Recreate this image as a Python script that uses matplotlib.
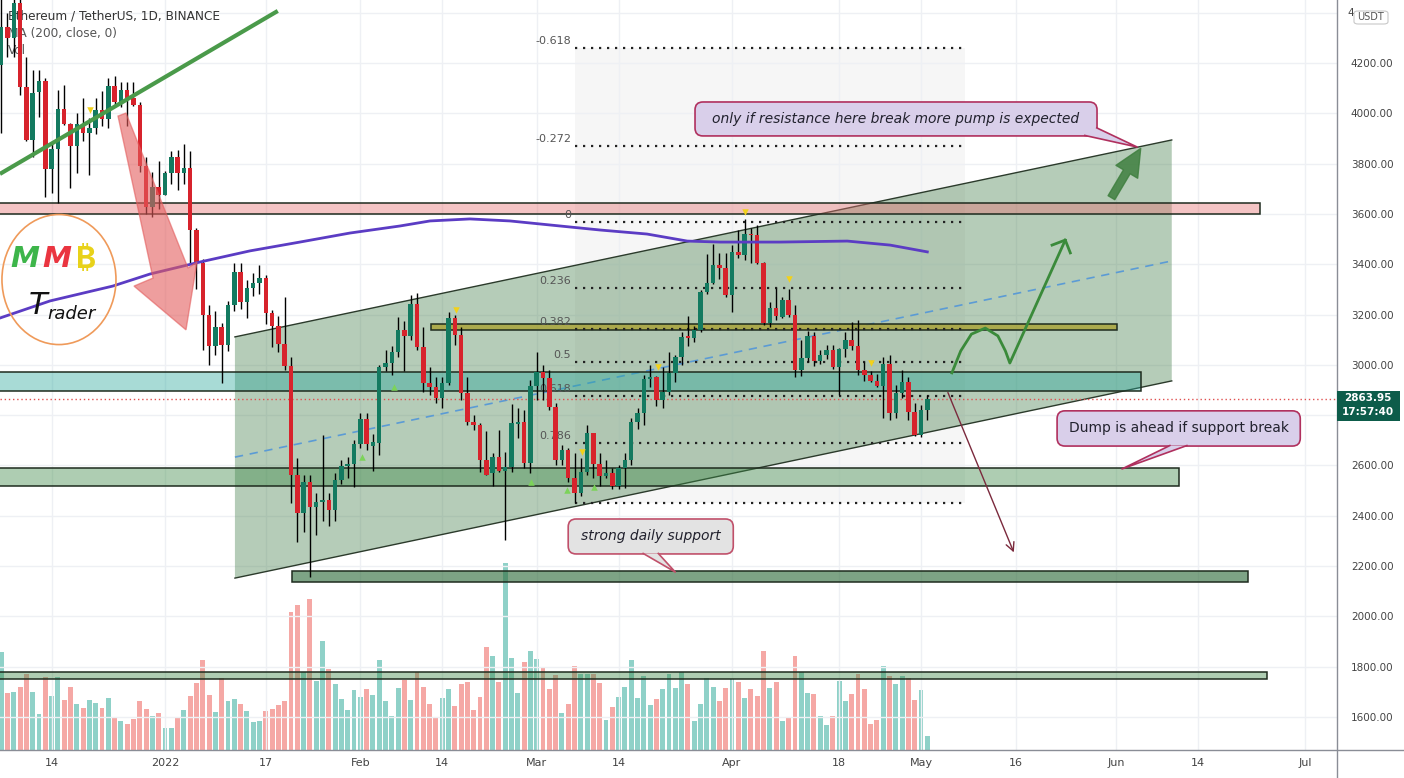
import numpy as np
import matplotlib
matplotlib.use("Agg")
import matplotlib.pyplot as plt
from matplotlib.patches import Polygon, Rectangle, Ellipse, FancyBboxPatch, FancyArrowPatch

# ---------------- data (x = days from 2022-01-01, first candle 2021-12-06) ----------------
first_day = -26

opens = [4192, 4343, 4300, 4440, 4105, 3894, 4085, 4128, 3778, 3858, 4017, 3957, 3870, 3957, 3920, 3941,
         4013, 3977, 4108, 4045, 4093, 4060, 4033, 3790, 3627, 3707,
         3676, 3763, 3826, 3763, 3781, 3537, 3404, 3198, 3075, 3150, 3080, 3238, 3369, 3248, 3305, 3325,
         3345, 3205, 3154, 3083, 2995, 2562, 2410, 2534, 2436, 2454, 2462, 2422, 2542, 2598, 2605,
         2685, 2785, 2677, 2689, 2991, 3007, 3051, 3139, 3115, 3242, 3071, 2928, 2912, 2868, 2928, 3186,
         3118, 2888, 2773, 2761, 2621, 2570, 2633, 2577, 2593, 2765, 2773, 2610,
         2916, 2971, 2947, 2832, 2621, 2661, 2550, 2490, 2574, 2729, 2607, 2557, 2568, 2518, 2590, 2620,
         2772, 2810, 2945, 2950, 2860, 2890, 2967, 3031, 3110, 3106, 3139, 3290, 3325, 3397, 3385,
         3278, 3450, 3438, 3520, 3515, 3405, 3166, 3226, 3190, 3258, 3198, 2980, 3027, 3115, 3015, 3038,
         3058, 2990, 3062, 3100, 3075, 2980, 2960, 2935, 2915, 3003, 2808, 2888, 2932, 2812,
         2721, 2820]
highs = [4460, 4400, 4460, 4490, 4224, 4172, 4172, 4140, 3884, 4093, 4112, 3962, 4000, 4060, 3980, 4060,
         4090, 4140, 4150, 4125, 4125, 4125, 4045, 3825, 3768, 3810,
         3770, 3850, 3855, 3876, 3850, 3544, 3420, 3238, 3212, 3166, 3255, 3405, 3405, 3337, 3366, 3396,
         3357, 3216, 3195, 3270, 3031, 2630, 2560, 2560, 2490, 2720, 2490, 2570, 2620, 2634, 2700,
         2810, 2810, 2723, 3000, 3060, 3075, 3190, 3175, 3278, 3285, 3150, 2990, 2950, 2950, 3210, 3200,
         3150, 2950, 2800, 2770, 2735, 2650, 2742, 2655, 2845, 2830, 2820, 2940,
         3050, 3000, 2980, 2850, 2680, 2670, 2650, 2630, 2760, 2730, 2650, 2620, 2590, 2600, 2650, 2790,
         2830, 2960, 3000, 2955, 2990, 3050, 3040, 3130, 3195, 3156, 3298, 3440, 3481, 3445, 3446,
         3475, 3535, 3580, 3545, 3555, 3410, 3250, 3306, 3270, 3300, 3236, 3100, 3135, 3130, 3060, 3080,
         3080, 3065, 3130, 3170, 3180, 3010, 2975, 2965, 3030, 3040, 2920, 2980, 2950, 2850,
         2840, 2880]
lows = [3920, 4224, 4224, 4073, 3890, 3826, 3985, 3667, 3683, 3643, 3955, 3702, 3763, 3890, 3755, 3918,
        3948, 3940, 4030, 4025, 3950, 4030, 3765, 3600, 3588, 3620,
        3675, 3718, 3695, 3720, 3400, 3300, 3059, 2999, 3040, 2928, 3055, 3213, 3220, 3186, 3275, 3280,
        3164, 3070, 3050, 2980, 2450, 2295, 2335, 2156, 2325, 2380, 2360, 2380, 2525, 2550, 2515,
        2670, 2660, 2577, 2640, 2975, 2960, 3032, 2975, 3100, 3060, 2890, 2880, 2850, 2830, 2920, 3077,
        2860, 2760, 2740, 2575, 2560, 2520, 2575, 2303, 2575, 2710, 2590, 2570,
        2860, 2860, 2820, 2600, 2600, 2535, 2450, 2480, 2560, 2550, 2520, 2550, 2505, 2505, 2510, 2600,
        2745, 2760, 2910, 2835, 2830, 2880, 2930, 3000, 3075, 3092, 3130, 3280, 3320, 3340, 3270,
        3210, 3425, 3418, 3405, 3400, 3160, 3150, 3180, 3188, 3190, 2950, 2955, 3010, 2995, 3005, 3025,
        2985, 2880, 3030, 3060, 2960, 2935, 2930, 2910, 2790, 2780, 2790, 2870, 2780, 2715,
        2712, 2780]
closes = [4343, 4300, 4440, 4105, 3894, 4080, 4128, 3778, 3858, 4017, 3957, 3870, 3957, 3922, 3940, 4013,
          3977, 4108, 4045, 4093, 4060, 4033, 3790, 3627, 3707, 3676,
          3763, 3826, 3763, 3781, 3537, 3404, 3198, 3075, 3150, 3080, 3238, 3369, 3248, 3305, 3325, 3345,
          3205, 3154, 3083, 2995, 2562, 2410, 2534, 2436, 2454, 2462, 2422, 2542, 2598, 2605, 2685,
          2785, 2685, 2693, 2991, 3007, 3051, 3139, 3115, 3242, 3071, 2928, 2912, 2868, 2928, 3186, 3118,
          2888, 2773, 2761, 2621, 2562, 2633, 2577, 2593, 2769, 2773, 2610, 2916,
          2971, 2947, 2832, 2621, 2661, 2550, 2490, 2574, 2729, 2607, 2557, 2568, 2518, 2590, 2620, 2772,
          2810, 2945, 2950, 2860, 2890, 2967, 3031, 3110, 3106, 3139, 3290, 3325, 3397, 3385, 3278,
          3450, 3438, 3520, 3515, 3405, 3166, 3226, 3196, 3258, 3198, 2980, 3027, 3115, 3015, 3038, 3058,
          2990, 3062, 3100, 3075, 2980, 2960, 2935, 2915, 3003, 2808, 2888, 2932, 2812, 2721,
          2820, 2864]
volumes = [98, 57, 58, 63, 76, 58, 36, 73, 54, 73, 50, 63, 46, 42, 50, 47, 42, 52, 32, 29, 26, 31, 49, 41, 34, 37,
           22, 22, 33, 40, 54, 67, 90, 55, 38, 72, 49, 51, 46, 39, 28, 29, 39, 41, 45, 49, 138, 145, 78, 151,
           69, 109, 81, 66, 51, 40, 60,
           53, 61, 55, 90, 49, 34, 62, 70, 50, 78, 63, 46, 33, 52, 61, 44, 66, 68, 40, 53, 103, 94, 68, 187,
           92, 57, 88, 99,
           91, 83, 61, 75, 37, 46, 84, 76, 76, 76, 67, 30, 43, 53, 63, 90, 52, 74, 45, 51, 61, 76, 62, 78,
           66, 29, 46, 72, 63, 49, 62,
           71, 68, 52, 61, 54, 99, 62, 68, 29, 32, 94, 78, 57, 56, 34, 25, 34, 69, 49, 56, 76, 61, 26, 30,
           84, 74, 66, 74, 72, 50,
           60, 14]

last_price = 2863.95

# MA(200) as drawn
ma_days = [-26.2, -18.25, -8.3, -2.38, 5.6, 13.49, 21.4, 29.37, 37.3, 42.06, 48.4, 54.76, 61.1, 69.05,
           76.5, 82.9, 88.1, 97.6, 108.3, 115.1, 121.0]
ma_vals = [3186, 3254, 3313, 3361, 3409, 3453, 3488, 3524, 3552, 3572, 3580, 3572, 3556, 3536,
           3520, 3492, 3488, 3488, 3492, 3476, 3449]

# fib retracement
fib_levels = [-0.618, -0.272, 0, 0.236, 0.382, 0.5, 0.618, 0.786, 1]
fib_labels = ["-0.618", "-0.272", "0", "0.236", "0.382", "0.5", "0.618", "0.786", ""]
fib_zero, fib_one = 3568, 2451
fib_start, fib_end = 65.1, 127.0

# channel (lower line, upper line)
chan_days = [11.1, 159.8]
chan_low = [2152, 2936]
chan_high = [3111, 3894]
chan_mid = [2633, 3413]

# horizontal zones: (start day, end day, low, high, colour, alpha)
zones = [
    (-40, 173.8, 3598, 3642, '#e57373', 0.42),
    (-40, 154.9, 2896, 2970, '#26a69a', 0.40),
    (-40, 161.0, 2518, 2589, '#3e8a48', 0.42),
    (42.2, 151.1, 3139, 3162, '#a89f2a', 0.75),
    (20.2, 171.9, 2137, 2180, '#2e6b3a', 0.62),
    (-40, 174.9, 1751, 1779, '#3e8a48', 0.42),
]

# trend line top-left
trend_days = [-26.2, 17.9]
trend_vals = [3759, 4407]

# markers
yellow_days = [-11.9, 46.2, 78.3, 92.1, 99.0, 112.1, 66.2]
yellow_vals = [4013, 3218, 2991, 3608, 3341, 3007, 2653]
green_days = [36.3, 58.1, 63.8, 68.1, 31.3]
green_vals = [2912, 2534, 2502, 2514, 2634]

tick_days = [-18, 0, 16, 31, 44, 59, 72, 90, 107, 120, 135, 151, 164, 181]
tick_labels = ["14", "2022", "17", "Feb", "14", "Mar", "14", "Apr", "18", "May", "16", "Jun", "14", "Jul"]
grid_prices = list(range(1600, 4401, 200))
# 2800 sits under the last-price tag, 4400 under the currency badge
label_prices = [p for p in grid_prices if p not in (2800, 4400)]

# ---------------- figure ----------------
W, H = 1404, 778
fig = plt.figure(figsize=(W / 100, H / 100), dpi=100)
fig.patch.set_facecolor('white')
rect = [0, 28 / H, 1337 / W, 750 / H]
axv = fig.add_axes(rect)
ax = fig.add_axes(rect, sharex=axv)
axv.set_zorder(0)
ax.set_zorder(1)
ax.patch.set_visible(False)

xmin, xmax = -26.19, 186.03
ymin, ymax = 1468.5, 4450.5
ax.set_xlim(xmin, xmax)
ax.set_ylim(ymin, ymax)
aspect = ((ymax - ymin) / 750) / ((xmax - xmin) / 1337)

days = np.arange(len(closes)) + first_day
o = np.array(opens, float)
c = np.array(closes, float)
up = c >= o

# volume
vol_colors = np.where(up, '#8fd1c8', '#f5a8a5')
axv.bar(days, volumes, width=0.78, color=vol_colors, linewidth=0)
axv.set_ylim(0, 750)
axv.axis('off')

# grid
for d in tick_days:
    ax.axvline(d, color='#eef0f4', lw=1, zorder=0.4)
for p in grid_prices:
    ax.axhline(p, color='#eef0f4', lw=1, zorder=0.4)

# fib background + levels
fib_prices = [fib_zero - lv * (fib_zero - fib_one) for lv in fib_levels]
ax.fill_between([fib_start, fib_end], min(fib_prices), max(fib_prices), color='#f6f6f6', zorder=0.2, lw=0)

# channel
ax.add_patch(Polygon([(chan_days[0], chan_low[0]), (chan_days[0], chan_high[0]),
                      (chan_days[1], chan_high[1]), (chan_days[1], chan_low[1])],
                     closed=True, facecolor='#3e7a45', alpha=0.38, lw=0, zorder=2))
ax.plot(chan_days, chan_low, color='#2b3a2b', lw=1, zorder=2.5)
ax.plot(chan_days, chan_high, color='#2b3a2b', lw=1, zorder=2.5)
ax.plot(chan_days, chan_mid, color='#5b9bd5', lw=1.2, ls=(0, (5, 4)), zorder=2.5)

# zones
for d0, d1, lo, hi, col, al in zones:
    ax.add_patch(Rectangle((d0, lo), d1 - d0, hi - lo, facecolor=col, alpha=al, lw=0, zorder=3))
    ax.add_patch(Rectangle((d0, lo), d1 - d0, hi - lo, fill=False, edgecolor='#1e2b1e', lw=1.1, zorder=3.1))

for lv, lab, fp in zip(fib_levels, fib_labels, fib_prices):
    ax.plot([fib_start, fib_end], [fp, fp], color='#222222', lw=1.6, ls=(0, (1, 2.6)), zorder=3.5)
    if lab:
        ax.annotate(lab, (fib_start, fp), xytext=(-4, 7), textcoords='offset pixels',
                    ha='right', va='center', fontsize=8, color='#555555', zorder=3.5)

# last price line
ax.axhline(last_price, color='#e05050', lw=1, ls=(0, (1, 2)), zorder=3.6)

# candles
candle_colors = np.where(up, '#137a60', '#d7232c')
ax.vlines(days, lows, highs, color='black', lw=1, zorder=5)
body_h = np.maximum(np.abs(c - o), 7)
ax.bar(days, body_h, bottom=np.minimum(o, c), width=0.72, color=candle_colors, lw=0, zorder=6)

# MA
ax.plot(ma_days, ma_vals, color='#5b3cc4', lw=2, zorder=7)

# top-left trend line
ax.plot(trend_days, trend_vals, color='#4a9a4a', lw=3, zorder=7, solid_capstyle='butt')

# markers
ax.scatter(yellow_days, yellow_vals, marker='v', s=22, color='#f2d11b', zorder=7, lw=0)
ax.scatter(green_days, green_vals, marker='^', s=22, color='#7cd35a', zorder=7, lw=0)

# big red arrow
ax.add_patch(Polygon([(-7.46, 3989), (-6.19, 4001), (3.65, 3385), (5.08, 3409), (3.33, 3139),
                      (-4.92, 3313), (-1.90, 3345)], closed=True,
                     facecolor='#e35d5d', edgecolor='#e35d5d', alpha=0.6, lw=1, zorder=8))

# green pump path
pump_x = [124.9, 126.3, 128.0, 130.2, 132.2, 133.4, 134.1, 142.9]
pump_y = [2968, 3055, 3122, 3146, 3115, 3055, 3007, 3496]
ax.plot(pump_x, pump_y, color='#3a8a3a', lw=2, zorder=8, solid_joinstyle='round')
ax.plot([140.8, 142.9, 143.7], [3476, 3496, 3445], color='#3a8a3a', lw=2, zorder=8)

# bold green arrow
ax.add_patch(FancyArrowPatch((150.0, 3655), (155.1, 3870),
                             arrowstyle='simple,head_width=1.3,head_length=1.4,tail_width=0.4',
                             mutation_scale=14, color='#3f7f3f', alpha=0.85, zorder=8))
# thin dump arrow
ax.add_patch(FancyArrowPatch((124.1, 2900), (134.9, 2244),
                             arrowstyle='->,head_length=0.5,head_width=0.25',
                             mutation_scale=12, color='#7b2a3d', lw=1, zorder=8))


def callout(x0, x1, y0, y1, base, tip, text, fc, ec, italic):
    ax.add_patch(FancyBboxPatch((x0, y0), x1 - x0, y1 - y0,
                                boxstyle='round,pad=0,rounding_size=1.25', mutation_aspect=aspect,
                                facecolor=fc, edgecolor=ec, lw=1.2, zorder=20))
    ax.add_patch(Polygon([base[0], tip, base[1]], closed=True, facecolor=fc, edgecolor='none', zorder=21))
    ax.plot([base[0][0], tip[0], base[1][0]], [base[0][1], tip[1], base[1][1]], color=ec, lw=1.2, zorder=21)
    ax.text((x0 + x1) / 2, (y0 + y1) / 2, text, ha='center', va='center', fontsize=10,
            style='italic' if italic else 'normal', color='#22222e', zorder=22)


callout(84.13, 147.94, 3910, 4045, [(146.0, 3912), (147.9, 3942)], (154.3, 3866),
        "only if resistance here break more pump is expected", '#d9cfea', '#b0305e', True)
callout(141.6, 180.2, 2677, 2817, [(159.5, 2679), (162.2, 2679)], (151.9, 2586),
        "Dump is ahead if support break", '#d9cfea', '#b0305e', False)
callout(64.0, 90.2, 2248, 2387, [(75.9, 2250), (78.3, 2250)], (81.0, 2176),
        "strong daily support", '#e3e3e3', '#c0506a', True)

# logo
ax.add_patch(Ellipse((-16.83, 3339), 18.1, 517, fill=False, edgecolor='#ef9a5a', lw=1.2, zorder=8))
ax.text(-22.2, 3421, "M", ha='center', va='center', fontsize=21, fontweight='bold', style='italic',
        color='#3db54a', zorder=9)
ax.text(-17.1, 3421, "M", ha='center', va='center', fontsize=21, fontweight='bold', style='italic',
        color='#ea3540', zorder=9)
ax.text(-12.6, 3418, "\u20bf", ha='center', va='center', fontsize=22, fontweight='bold',
        family=['Inter', 'Noto Sans', 'Roboto', 'Open Sans', 'Lato', 'Liberation Sans', 'DejaVu Sans'],
        color='#e8d21a', zorder=9)
ax.text(-20.2, 3234, "T", ha='center', va='center', fontsize=22, style='italic', color='#111111', zorder=9)
ax.text(-18.7, 3182, "rader", ha='left', va='baseline', fontsize=13, style='italic', color='#111111', zorder=9)

# header texts
ax.text(8 / 1337, 1 - 16 / 750, "Ethereum / TetherUS, 1D, BINANCE", transform=ax.transAxes,
        fontsize=8.7, color='#333333', va='center', ha='left', zorder=3)
ax.text(8 / 1337, 1 - 33 / 750, "MA (200, close, 0)", transform=ax.transAxes,
        fontsize=8.7, color='#555555', va='center', ha='left', zorder=3)
ax.text(8 / 1337, 1 - 50 / 750, "Vol", transform=ax.transAxes,
        fontsize=8.7, color='#555555', va='center', ha='left', zorder=3)

# axes formatting
for s in ax.spines.values():
    s.set_visible(False)
ax.yaxis.tick_right()
ax.set_yticks(label_prices)
ax.set_yticklabels([f"{p:.2f}" for p in label_prices])
ax.tick_params(axis='y', length=0, pad=10, labelsize=7.5, labelcolor='#444444')
ax.set_xticks(tick_days)
ax.set_xticklabels(tick_labels)
ax.tick_params(axis='x', length=0, pad=6, labelsize=8, labelcolor='#444444')

# frame lines
fig.add_artist(plt.Line2D([1337 / W, 1337 / W], [0, 1], color='#8a8d96', lw=1))
fig.add_artist(plt.Line2D([0, 1], [28 / H, 28 / H], color='#8a8d96', lw=1))

# last price tag
fig.add_artist(Rectangle((1337 / W, 1 - 421 / H), 63 / W, 30 / H, transform=fig.transFigure,
                         facecolor='#0d5c4a', edgecolor='none', zorder=30))
fig.text(1368 / W, 1 - 398 / H, "2863.95", color='white', fontsize=7.5, fontweight='bold',
         ha='center', va='center', zorder=31)
fig.text(1368 / W, 1 - 412 / H, "17:57:40", color='white', fontsize=7.5, fontweight='bold',
         ha='center', va='center', zorder=31)

# currency badge, with the top price label peeking out on its left
fig.text(1347 / W, 1 - 13 / H, "4", color='#444444', fontsize=7.5, ha='left', va='center', zorder=29)
fig.add_artist(FancyBboxPatch((1354 / W, 1 - 24 / H), 34 / W, 13 / H, transform=fig.transFigure,
                              boxstyle='round,pad=0,rounding_size=0.003', facecolor='white',
                              edgecolor='#c8c8c8', lw=0.8, zorder=30))
fig.text(1371 / W, 1 - 17.5 / H, "USDT", color='#555555', fontsize=7, ha='center', va='center', zorder=31)

fig.savefig("out.png", dpi=100, facecolor='white')
